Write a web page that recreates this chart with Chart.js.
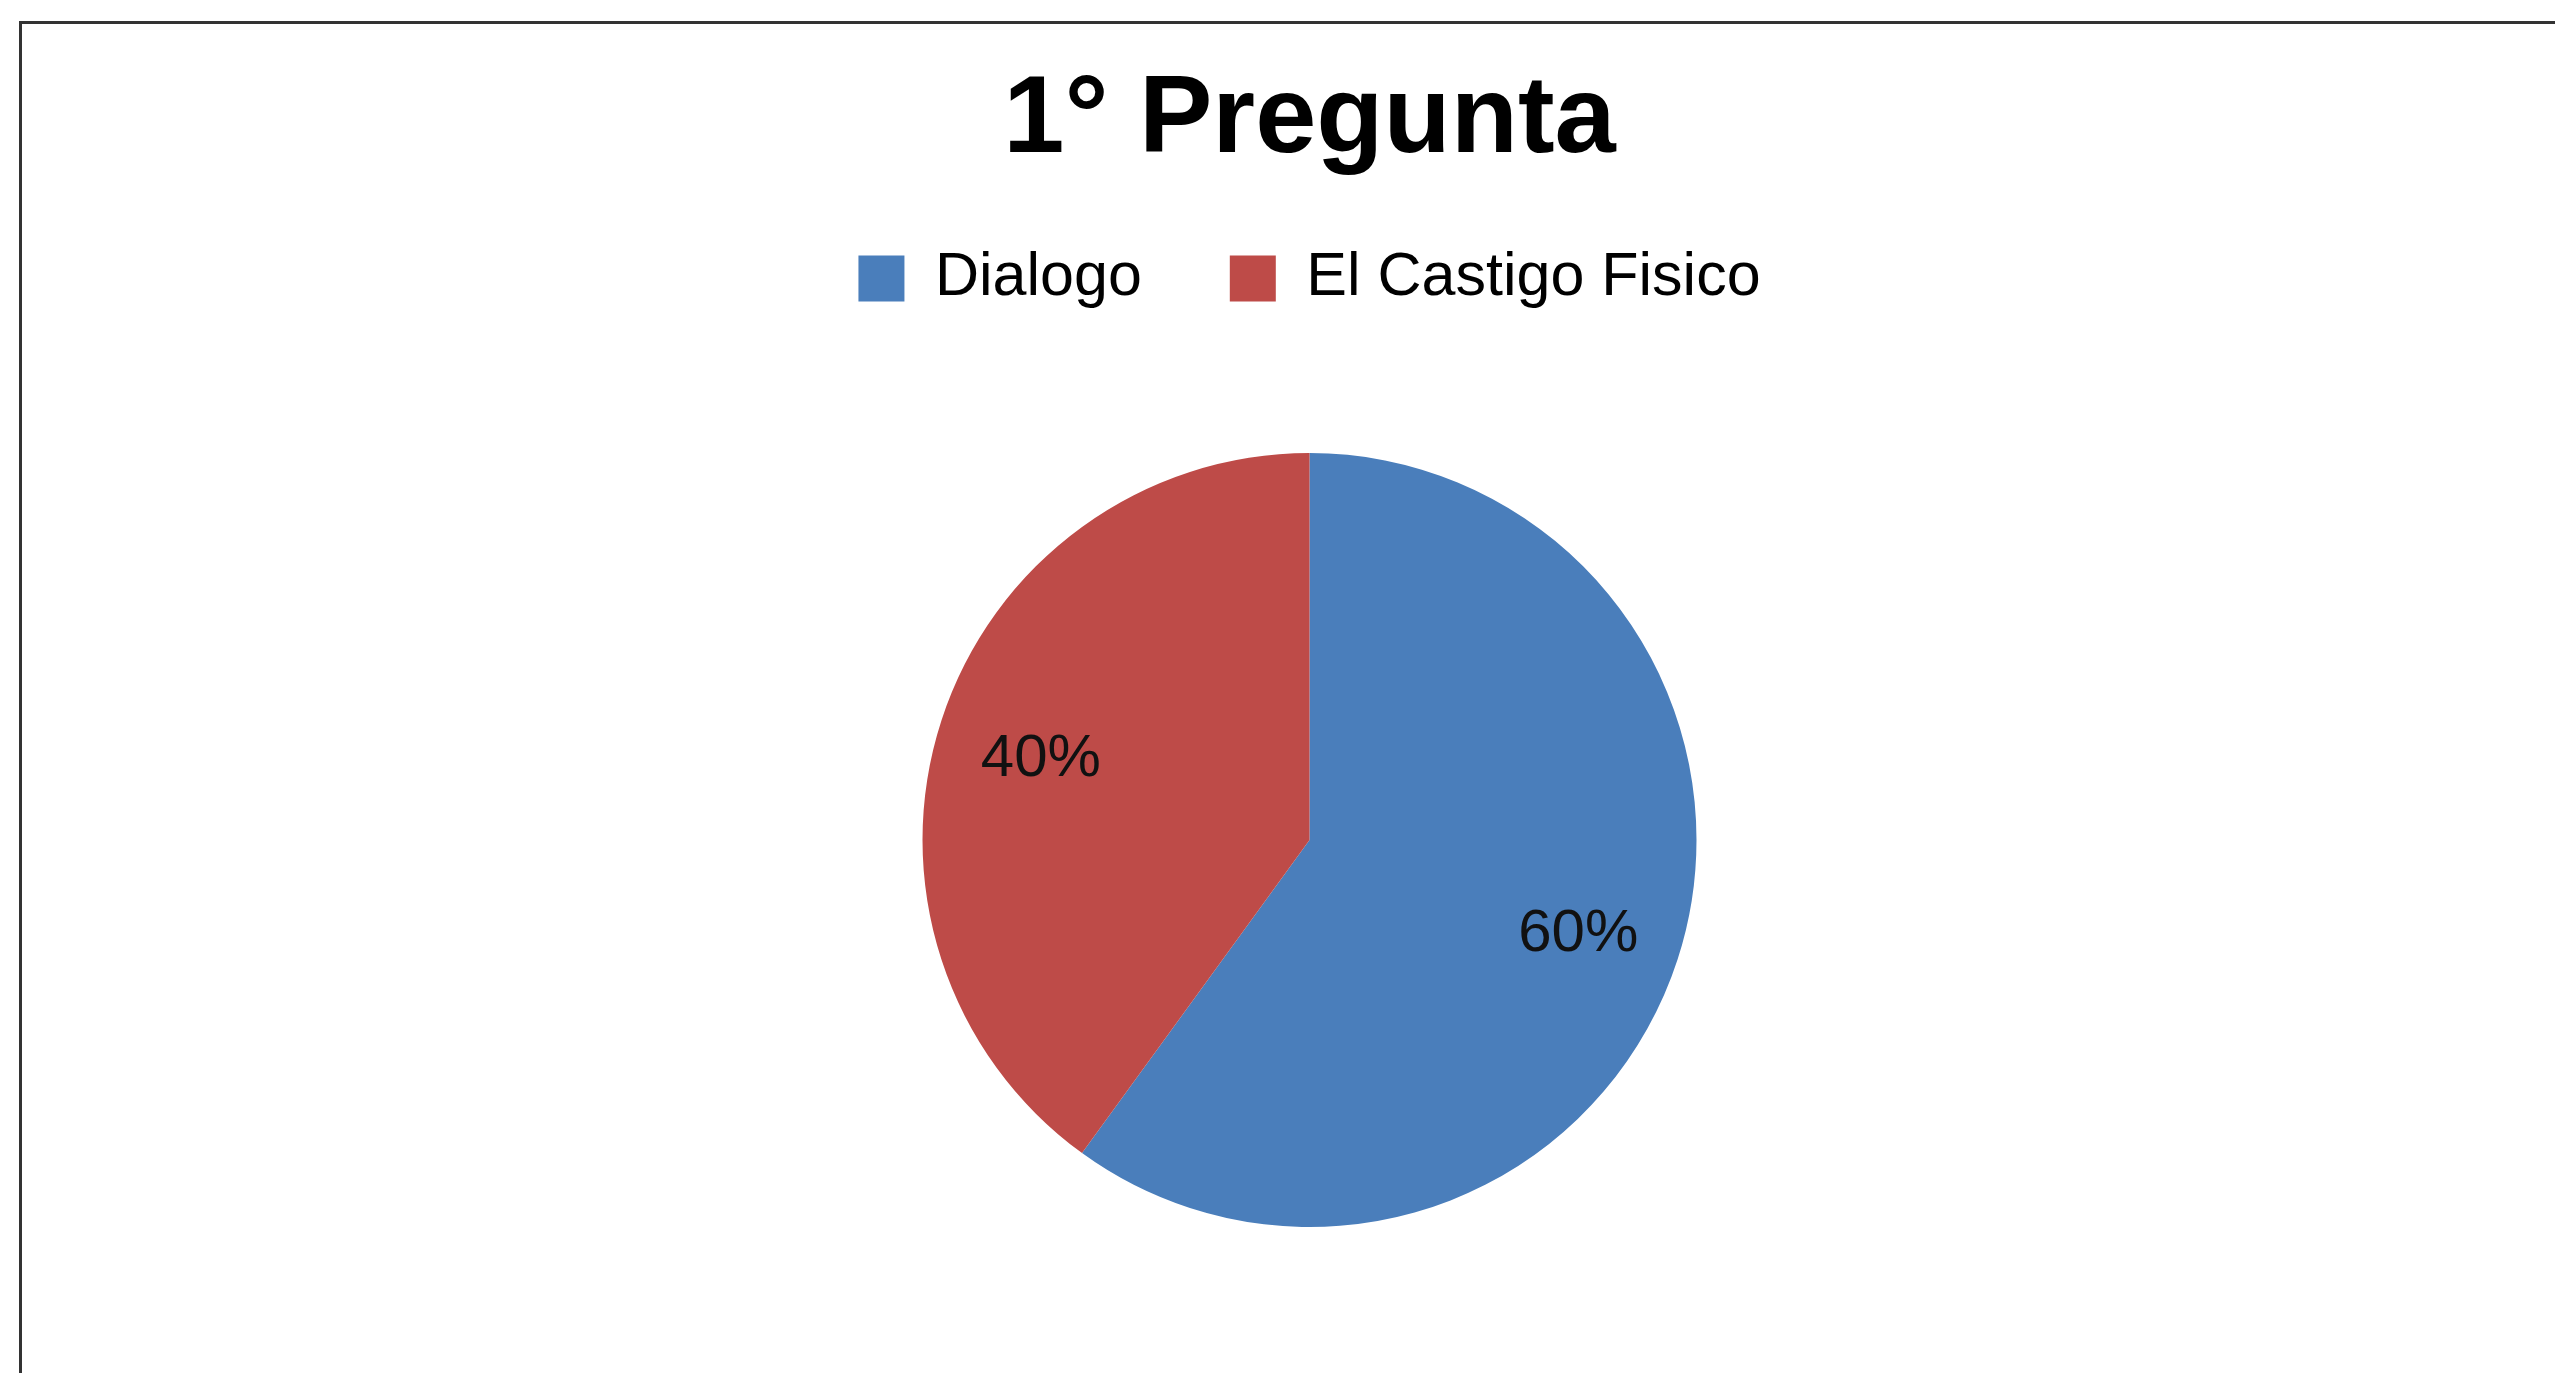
<!doctype html>
<html lang="es">
  <head>
    <meta charset="utf-8">
    <title>1° Pregunta</title>
    <style>
      html, body { margin: 0; padding: 0; background: #fff; overflow: hidden; }
      .frame {
        position: absolute; left: 19px; top: 21px;
        width: 3000px; height: 3000px;
        border: 3px solid #333;
      }
      .wrap { position: absolute; left: 0; top: 0; width: 2555px; height: 1373px; }
    </style>
  </head>
  <body>
    <div class="frame"></div>
    <div class="wrap">
      <canvas id="myChart"></canvas>
    </div>

    <script src="https://cdn.jsdelivr.net/npm/chart.js"></script>
    <script>
        const titleText = '1° Pregunta';
        const categories = ['Dialogo', 'El Castigo Fisico'];
        const values = [60, 40];
        const colors = ['#4A7EBB', '#BE4B48'];

        const fontFamily = "'Liberation Sans', Arial, sans-serif";

        // percentage labels drawn inside each slice
        const sliceLabels = {
            id: 'sliceLabels',
            afterDatasetsDraw(chart) {
                const ctx = chart.ctx;
                const meta = chart.getDatasetMeta(0);
                const total = values.reduce((a, b) => a + b, 0);
                ctx.save();
                ctx.font = '60px ' + fontFamily;
                ctx.fillStyle = '#111';
                ctx.textAlign = 'center';
                ctx.textBaseline = 'middle';
                meta.data.forEach((arc, i) => {
                    const p = arc.getProps(['x', 'y', 'startAngle', 'endAngle', 'outerRadius'], true);
                    const mid = (p.startAngle + p.endAngle) / 2;
                    const r = p.outerRadius * 0.73;
                    const pct = Math.round(values[i] / total * 100) + '%';
                    ctx.fillText(pct, p.x + Math.cos(mid) * r, p.y + Math.sin(mid) * r + 7);
                });
                ctx.restore();
            }
        };

        const data = {
            labels: categories,
            datasets: [
                {
                    data: values,
                    backgroundColor: colors,
                    borderWidth: 0,
                    radius: 387
                }
            ]
        };

        const config = {
            type: 'pie',
            data,
            options: {
                responsive: true,
                maintainAspectRatio: false,
                animation: false,
                layout: {
                    padding: { top: 56, bottom: 12, left: 64, right: 0 }
                },
                plugins: {
                    title: {
                        display: true,
                        text: titleText,
                        color: '#000',
                        font: { family: fontFamily, size: 110, weight: 'bold', lineHeight: 1.2 },
                        padding: { top: 0, bottom: -28 }
                    },
                    legend: {
                        position: 'top',
                        labels: {
                            color: '#000',
                            font: { family: fontFamily, size: 61 },
                            boxWidth: 46,
                            boxHeight: 46,
                            padding: 88
                        }
                    },
                    tooltip: { enabled: false }
                }
            },
            plugins: [sliceLabels]
        };

        const ctx = document.getElementById('myChart');
        new Chart(ctx, config);
    </script>
  </body>
</html>
